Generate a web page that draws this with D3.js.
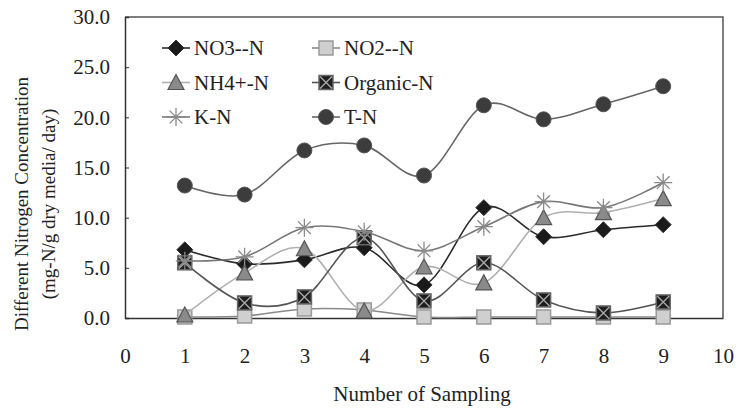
<!DOCTYPE html>
<html>
<head>
<meta charset="utf-8">
<script src="https://cdn.jsdelivr.net/npm/d3@7"></script>
<style>
  body { margin: 0; background: #fff; }
</style>
</head>
<body>
<div id="chart"></div>
<script>
// sampling number on x
const samples = [1, 2, 3, 4, 5, 6, 7, 8, 9];

// series values (mg-N/g dry media/day)
const no3 = [6.8, 5.4, 5.8, 7.0, 3.3, 11.0, 8.1, 8.8, 9.3];
const no2 = [0.1, 0.2, 0.9, 0.8, 0.1, 0.1, 0.1, 0.1, 0.1];
const nh4 = [0.3, 4.5, 6.9, 0.7, 5.1, 3.5, 10.0, 10.5, 11.9];
const organic = [5.5, 1.5, 2.1, 8.0, 1.7, 5.5, 1.8, 0.5, 1.6];
const kn = [5.7, 6.1, 9.0, 8.6, 6.7, 9.1, 11.6, 11.0, 13.5];
const tn = [13.2, 12.3, 16.7, 17.2, 14.2, 21.2, 19.8, 21.3, 23.1];

const seriesNames = ["NO3--N", "NO2--N", "NH4+-N", "Organic-N", "K-N", "T-N"];
const yTicks = [0, 5, 10, 15, 20, 25, 30];
const xTicks = [0, 1, 2, 3, 4, 5, 6, 7, 8, 9, 10];

const FONT = "'Liberation Serif', 'DejaVu Serif', serif";

const W = 739, H = 411;
const margin = { top: 17, right: 16, bottom: 93, left: 125 };
const width = W - margin.left - margin.right;
const height = H - margin.top - margin.bottom;

// look of each series (line colour + marker)
const styles = {
  "NO3--N":    { line: "#2a2a2a", marker: "diamond",  fill: "#1a1a1a", stroke: "#333" },
  "NO2--N":    { line: "#8a8a8a", marker: "square",   fill: "#cfcfcf", stroke: "#9a9a9a" },
  "NH4+-N":    { line: "#b0b0b0", marker: "triangle", fill: "#8a8a8a", stroke: "#555" },
  "Organic-N": { line: "#555",    marker: "xsquare",  fill: "#1e1e1e", stroke: "#666" },
  "K-N":       { line: "#777",    marker: "star",     fill: "none",    stroke: "#8a8a8a" },
  "T-N":       { line: "#666",    marker: "circle",   fill: "#3c3c3c", stroke: "#555" }
};

const series = [no3, no2, nh4, organic, kn, tn].map((vals, i) => ({
  name: seriesNames[i],
  values: samples.map((s, j) => ({ x: s, y: vals[j] }))
}));

const svg = d3.select("#chart")
  .append("svg")
  .attr("width", W)
  .attr("height", H)
  .attr("font-family", FONT);

const g = svg.append("g")
  .attr("transform", `translate(${margin.left},${margin.top})`);

const xScale = d3.scaleLinear().domain([0, 10]).range([0, width]);
const yScale = d3.scaleLinear().domain([0, 30]).range([height, 0]);

// frame (top + right)
g.append("path")
  .attr("d", `M0,0H${width}V${height}`)
  .attr("fill", "none")
  .attr("stroke", "#555")
  .attr("stroke-width", 1.5);

// y axis, ticks pointing inward
const yAxis = g.append("g")
  .call(d3.axisLeft(yScale).tickValues(yTicks).tickFormat(d3.format(".1f")).tickSize(-4).tickPadding(15));
yAxis.attr("font-family", FONT);
yAxis.select(".domain").attr("stroke", "#333").attr("stroke-width", 1.5);
yAxis.selectAll(".tick line").attr("stroke", "#333");
yAxis.selectAll(".tick text").attr("font-size", 21).attr("fill", "#222").style("font-family", FONT);

// x axis, labels only
const xAxis = g.append("g")
  .attr("transform", `translate(0,${height})`)
  .call(d3.axisBottom(xScale).tickValues(xTicks).tickFormat(d3.format("d")).tickSize(0).tickPadding(30));
xAxis.attr("font-family", FONT);
xAxis.select(".domain").attr("stroke", "#333").attr("stroke-width", 1.5);
xAxis.selectAll(".tick text").attr("font-size", 21).attr("fill", "#222").style("font-family", FONT);

// axis titles
svg.append("text")
  .attr("x", 422)
  .attr("y", 401)
  .attr("text-anchor", "middle")
  .attr("font-size", 21)
  .attr("fill", "#222")
  .style("font-family", FONT)
  .text("Number of Sampling");

const yTitle = svg.append("g").attr("transform", "translate(0,204) rotate(-90)");
yTitle.append("text")
  .attr("x", 0).attr("y", 28)
  .attr("text-anchor", "middle")
  .attr("font-size", 19)
  .attr("fill", "#222")
  .style("font-family", FONT)
  .text("Different Nitrogen Concentration");
yTitle.append("text")
  .attr("x", 0).attr("y", 55)
  .attr("text-anchor", "middle")
  .attr("font-size", 19)
  .attr("fill", "#222")
  .style("font-family", FONT)
  .text("(mg-N/g dry media/ day)");

// marker drawing
function drawMarker(sel, st) {
  const s = 7;
  if (st.marker === "circle") {
    sel.append("circle").attr("r", 7.5).attr("fill", st.fill).attr("stroke", st.stroke);
  } else if (st.marker === "square") {
    sel.append("rect").attr("x", -s).attr("y", -s).attr("width", 2 * s).attr("height", 2 * s)
      .attr("fill", st.fill).attr("stroke", st.stroke).attr("stroke-width", 1.5);
  } else if (st.marker === "xsquare") {
    sel.append("rect").attr("x", -s).attr("y", -s).attr("width", 2 * s).attr("height", 2 * s)
      .attr("fill", st.fill).attr("stroke", st.stroke).attr("stroke-width", 1.5);
    sel.append("path").attr("d", `M${-s + 1},${-s + 1}L${s - 1},${s - 1}M${s - 1},${-s + 1}L${-s + 1},${s - 1}`)
      .attr("stroke", "#aaa").attr("stroke-width", 1.3);
  } else if (st.marker === "diamond") {
    sel.append("path").attr("d", `M0,${-s - 1}L${s + 1},0L0,${s + 1}L${-s - 1},0Z`)
      .attr("fill", st.fill).attr("stroke", st.stroke);
  } else if (st.marker === "triangle") {
    sel.append("path").attr("d", `M0,${-s - 1}L${s + 1},${s}L${-s - 1},${s}Z`)
      .attr("fill", st.fill).attr("stroke", st.stroke).attr("stroke-width", 1.2);
  } else if (st.marker === "star") {
    const r = 9;
    let d = "";
    for (let k = 0; k < 4; k++) {
      const a = (k * Math.PI) / 4;
      d += `M${-r * Math.cos(a)},${-r * Math.sin(a)}L${r * Math.cos(a)},${r * Math.sin(a)}`;
    }
    sel.append("path").attr("d", d).attr("stroke", st.stroke).attr("stroke-width", 1.3).attr("fill", "none");
  }
}

const line = d3.line()
  .x((d) => xScale(d.x))
  .y((d) => yScale(d.y))
  .curve(d3.curveCardinal.tension(0));

series.forEach((s) => {
  const st = styles[s.name];
  const sg = g.append("g").attr("class", "series");
  sg.append("path")
    .datum(s.values)
    .attr("d", line)
    .attr("fill", "none")
    .attr("stroke", st.line)
    .attr("stroke-width", 1.6);
  sg.selectAll(".pt")
    .data(s.values)
    .enter()
    .append("g")
    .attr("class", "pt")
    .attr("transform", (d) => `translate(${xScale(d.x)},${yScale(d.y)})`)
    .each(function () { drawMarker(d3.select(this), st); });
});

// legend, two columns inside the plot
const legend = svg.append("g").attr("class", "legend");
seriesNames.forEach((name, i) => {
  const st = styles[name];
  const col = i % 2, row = Math.floor(i / 2);
  const lx = col === 0 ? 162 : 312;
  const ly = 48 + row * 34.5;
  const item = legend.append("g").attr("transform", `translate(${lx},${ly})`);
  item.append("line").attr("x1", 0).attr("x2", 28).attr("y1", 0).attr("y2", 0)
    .attr("stroke", st.line).attr("stroke-width", 1.6);
  const m = item.append("g").attr("transform", "translate(14,0)");
  drawMarker(m, st);
  item.append("text")
    .attr("x", 32)
    .attr("y", 0)
    .attr("dy", "0.35em")
    .attr("font-size", 21)
    .attr("fill", "#222")
    .style("font-family", FONT)
    .text(name);
});
</script>
</body>
</html>
